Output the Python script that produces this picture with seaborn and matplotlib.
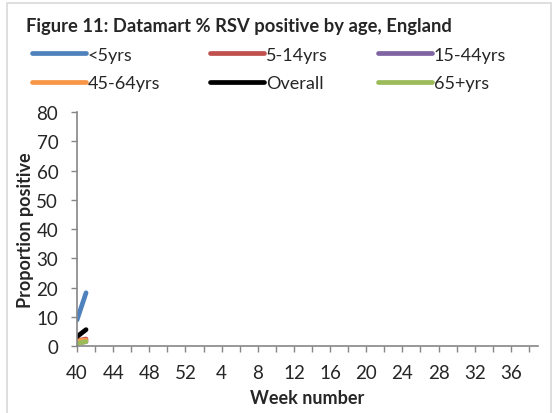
import pandas as pd
import matplotlib
matplotlib.use("Agg")
import matplotlib.pyplot as plt
import seaborn as sns
from matplotlib.patches import Rectangle

# week numbers on the category axis (week 40 through week 39 of the next year)
weeks = list(range(40, 53)) + list(range(1, 40))

# series values, only the first two weeks are reported
series_names = ['<5yrs', '5-14yrs', '15-44yrs', '45-64yrs', 'Overall', '65+yrs']
under5 = [8.9, 18.2]
age5_14 = [1.8, 2.4]
age15_44 = [1.0, 1.5]
age45_64 = [1.8, 2.0]
overall = [3.2, 5.6]
age65 = [0.9, 1.5]
colors = ['#4F81BD', '#C0504D', '#8064A2', '#F79646', '#000000', '#9BBB59']

values = [under5, age5_14, age15_44, age45_64, overall, age65]
rows = []
for name, vals in zip(series_names, values):
    for i, v in enumerate(vals):
        rows.append({'pos': i, 'week': weeks[i], 'value': v, 'series': name})
df = pd.DataFrame(rows)

sns.set_style('white')
plt.rcParams['font.family'] = ['Lato', 'DejaVu Sans']

fig = plt.figure(figsize=(5.56, 4.14), dpi=100)
ax = fig.add_axes([0.1385, 0.1618, 0.829, 0.5652])

sns.lineplot(data=df, x='pos', y='value', hue='series', hue_order=series_names,
             palette=dict(zip(series_names, colors)), linewidth=3.4, ax=ax,
             legend=False, solid_capstyle='round')

ax.set_xlim(0, len(weeks) - 1)
ax.set_ylim(0, 80)
ax.set_yticks(range(0, 81, 10))
ax.set_xticks(range(0, len(weeks), 2))
ax.set_xticklabels([str(weeks[i]) if i % 4 == 0 else '' for i in range(0, len(weeks), 2)])
ax.tick_params(axis='both', labelsize=13.5, length=4, width=1, color='#868686',
               direction='out', bottom=True, left=True)
ax.tick_params(axis='x', pad=9)
ax.tick_params(axis='y', pad=9.5)
for side in ['top', 'right']:
    ax.spines[side].set_visible(False)
for side in ['left', 'bottom']:
    ax.spines[side].set_color('#868686')
    ax.spines[side].set_linewidth(1.2)

ax.set_xlabel('Week number', fontsize=13, fontweight='bold', labelpad=6)
ax.set_ylabel('Proportion positive', fontsize=13, fontweight='bold', labelpad=2)

fig.text(0.046, 0.935, 'Figure 11: Datamart % RSV positive by age, England',
         fontsize=13.2, fontweight='bold', va='center')

# legend built from the drawn lines, reordered so it reads row by row
lines = ax.get_lines()[:len(series_names)]
order = [0, 3, 1, 4, 2, 5]
leg = fig.legend([lines[i] for i in order], [series_names[i] for i in order],
                 ncol=3, loc='upper left',
                 bbox_to_anchor=(0.0576, 0.885), frameon=False, fontsize=13,
                 handlelength=3.0, handletextpad=0.1, columnspacing=2.75,
                 labelspacing=0.68, borderpad=0, borderaxespad=0)

# outer chart border
fig.patches.append(Rectangle((7 / 556, -0.01), 544 / 556, 1.0, transform=fig.transFigure,
                             fill=False, edgecolor='#D9D9D9', linewidth=1.2))

fig.savefig('out.png', dpi=100)
